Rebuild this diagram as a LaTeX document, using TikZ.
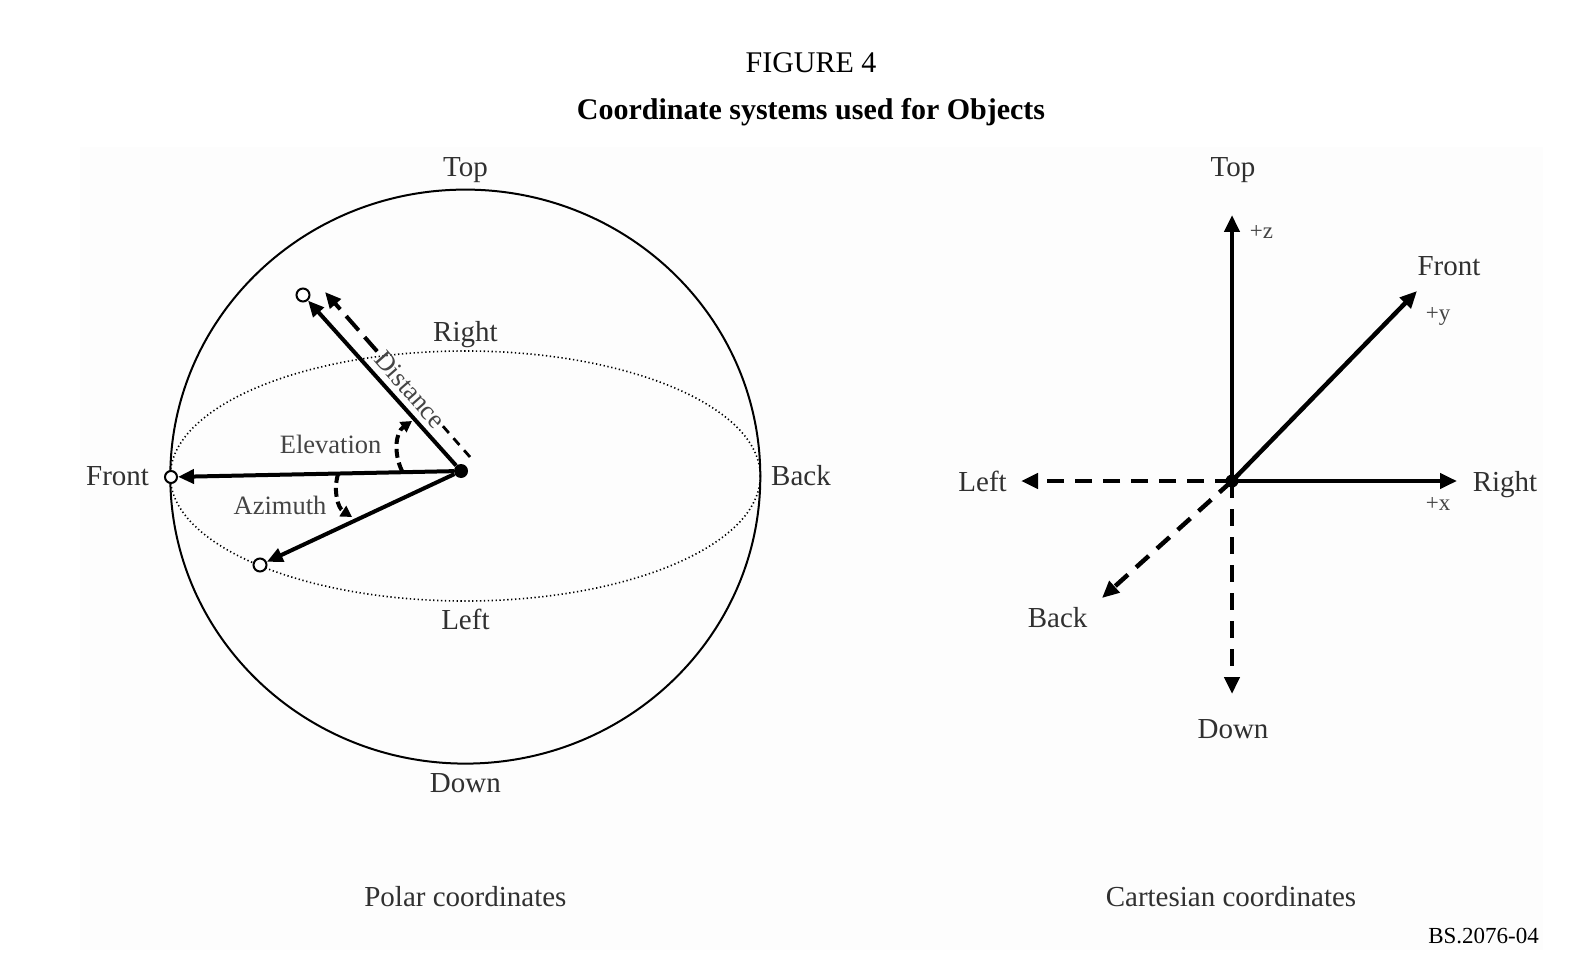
\documentclass[tikz,border=0pt]{standalone}
\usepackage{fontspec}
\setmainfont{Liberation Serif}
\usetikzlibrary{arrows.meta,calc}
\definecolor{bgpanel}{HTML}{FDFDFD}
\definecolor{labelc}{HTML}{303030}
\definecolor{smallc}{HTML}{444444}
\tikzset{
  lab/.style={font=\fontsize{29}{34}\selectfont, text=labelc, inner sep=0pt, text height=20pt, text depth=0pt},
  midlab/.style={font=\fontsize{26.5}{32}\selectfont, text=smallc, inner sep=0pt, text height=18pt, text depth=0pt},
  smalllab/.style={font=\fontsize{23}{28}\selectfont, text=smallc, inner sep=0pt, text height=11pt, text depth=0pt},
  ttl/.style={font=\fontsize{30}{36}\selectfont, text=black, inner sep=0pt, text height=20pt, text depth=0pt},
  sphere/.style={line width=2pt, draw=black},
  dottedline/.style={line width=1.6pt, dash pattern=on 1.3pt off 2.6pt, draw=black},
  objpt/.style={circle, draw=black, line width=2pt, fill=bgpanel, inner sep=0pt, minimum size=#1},
  centerdot/.style={circle, fill=black, inner sep=0pt, minimum size=#1},
  polarrow/.style={line width=4pt, -{Triangle[length=16pt,width=14pt]}},
  distarrow/.style={line width=4pt, dash pattern=on 19pt off 9pt, -{Triangle[length=16pt,width=14pt]}},
  distline/.style={line width=2.8pt, dash pattern=on 9pt off 7pt},
  dasharc/.style={line width=4pt, dash pattern=on 9pt off 5pt, -{Triangle[length=11pt,width=12pt]}},
  cartsolid/.style={line width=4.5pt, -{Triangle[length=17pt,width=15pt]}},
  cartdash/.style={line width=4.5pt, dash pattern=on 17pt off 11pt, -{Triangle[length=17pt,width=15pt]}}
}
\begin{document}
\begin{tikzpicture}[x=1pt,y=-1pt]
\useasboundingbox (0,0) rectangle (1590,976);
\fill[white] (0,0) rectangle (1590,976);
\fill[bgpanel] (80,147) rectangle (1543,950);

% titles
\node[ttl] (fig) at (811,63) {FIGURE 4};
\node[ttl, font=\fontsize{30}{36}\selectfont\bfseries] (title) at (811,110) {Coordinate systems used for Objects};

% ---------- polar ----------
\draw[sphere] (465.3,476.6) ellipse [x radius=295, y radius=287];
\draw[dottedline] (465.3,476) ellipse [x radius=295, y radius=125];

\node[centerdot=14pt] (c) at (461,471) {};
\node[objpt=12pt] (fr) at (171,477) {};
\node[objpt=13pt] (tp) at (303,295) {};
\node[objpt=13pt] (az) at (260,565) {};

\draw[polarrow] (c) -- (fr);
\draw[polarrow] (c) -- (tp);
\draw[polarrow] (c) -- (az);

% distance
\coordinate (ds) at (470,457);
\coordinate (dt) at (325,292);
\draw[distline] (ds) -- ($(ds)!0.19!(dt)$);
\draw[distarrow] ($(dt)!0.36!(ds)$) -- (dt);
\node[midlab, rotate=-48.7] (dist) at ($(ds)!0.41!(dt)$) {Distance};

% elevation and azimuth arcs
\coordinate (e1) at (402,471);
\coordinate (e2) at (412,421);
\draw[dasharc] (e1) .. controls (393,452) and (396,432) .. (e2);
\coordinate (a1) at (338,474);
\coordinate (a2) at (352,517);
\draw[dasharc] (a1) .. controls (333,492) and (338,508) .. (a2);

\node[midlab] (elev) at (330.6,444) {Elevation};
\node[midlab] (azim) at (280,505) {Azimuth};

\node[lab] (ptop) at (465.4,167) {Top};
\node[lab] (pright) at (465.4,331.6) {Right};
\node[lab] (pleft) at (465.4,619.6) {Left};
\node[lab] (pdown) at (465.4,782.8) {Down};
\node[lab] (pfront) at (117.6,475.6) {Front};
\node[lab] (pback) at (801,475.6) {Back};
\node[lab] (pcap) at (465.4,896.4) {Polar coordinates};

% ---------- cartesian ----------
\node[centerdot=13pt] (o) at (1232,481) {};
\coordinate (zt) at (1232,215);
\coordinate (xt) at (1457,481);
\coordinate (yt) at (1417,291);
\coordinate (xl) at (1021,481);
\coordinate (zd) at (1232,694);
\coordinate (yb) at (1102,598);

\draw[cartsolid] (o.center) -- (zt);
\draw[cartsolid] (o.center) -- (xt);
\draw[cartsolid] (o.center) -- (yt);
\draw[cartdash] (o.center) -- (xl);
\draw[cartdash] (o.center) -- (zd);
\draw[cartdash] (o.center) -- (yb);

\node[lab] (ctop) at (1233,167) {Top};
\node[smalllab] (cz) at (1261.5,233) {+z};
\node[lab] (cfront) at (1449,266) {Front};
\node[smalllab] (cy) at (1438,315) {+y};
\node[lab] (cleft) at (982.6,481) {Left};
\node[lab] (cright) at (1505,481) {Right};
\node[smalllab] (cx) at (1438,505) {+x};
\node[lab] (cback) at (1057.6,617.5) {Back};
\node[lab] (cdown) at (1233,728) {Down};
\node[lab] (ccap) at (1231,896.4) {Cartesian coordinates};

\node[smalllab, text height=16pt, anchor=east, text=black] (ref) at (1539,935) {BS.2076-04};
\end{tikzpicture}
\end{document}
